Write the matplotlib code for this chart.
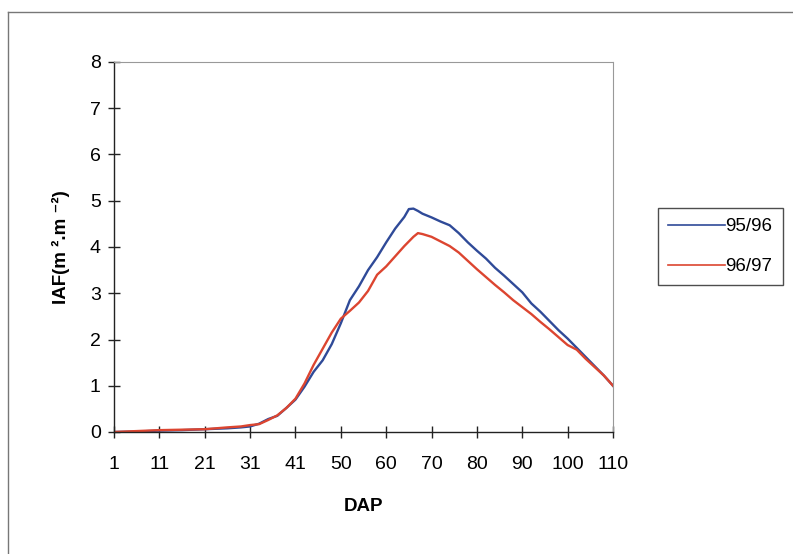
import matplotlib
matplotlib.use('Agg')
import matplotlib.pyplot as plt
from matplotlib.lines import Line2D

plt.rcParams['font.family'] = ['Liberation Sans', 'DejaVu Sans']

# DATA (x = position along the category axis, 0 .. 110)
pos = [0, 5, 10, 15, 20, 25, 28, 30, 32, 34, 36, 38, 40, 42, 44, 46, 48, 50,
       52, 54, 56, 58, 60, 62, 64, 65, 66, 67, 68, 70, 72, 74, 76, 78, 80,
       82, 84, 86, 88, 90, 92, 94, 96, 98, 100, 102, 104, 106, 108, 110]

iaf_9596 = [0.00, 0.01, 0.03, 0.04, 0.06, 0.08, 0.10, 0.12, 0.18, 0.28, 0.35,
            0.52, 0.70, 0.98, 1.30, 1.55, 1.90, 2.35, 2.85, 3.15, 3.50, 3.78,
            4.10, 4.40, 4.65, 4.82, 4.83, 4.78, 4.72, 4.64, 4.55, 4.47, 4.30,
            4.10, 3.92, 3.75, 3.55, 3.38, 3.20, 3.02, 2.78, 2.60, 2.40, 2.20,
            2.02, 1.82, 1.62, 1.42, 1.22, 1.00]

iaf_9697 = [0.00, 0.02, 0.04, 0.05, 0.06, 0.10, 0.12, 0.15, 0.17, 0.26, 0.36,
            0.52, 0.72, 1.05, 1.45, 1.80, 2.15, 2.45, 2.62, 2.80, 3.05, 3.40,
            3.58, 3.80, 4.02, 4.12, 4.22, 4.30, 4.28, 4.22, 4.12, 4.02, 3.88,
            3.70, 3.52, 3.35, 3.18, 3.02, 2.85, 2.70, 2.55, 2.38, 2.22, 2.05,
            1.88, 1.78, 1.58, 1.40, 1.22, 1.00]

tick_pos = [0, 10, 20, 30, 40, 50, 60, 70, 80, 90, 100, 110]
tick_labels = ['1', '11', '21', '31', '41', '50', '60', '70', '80', '90',
               '100', '110']

BLUE = '#2f4a98'
RED = '#dc4530'

W, H = 793, 554
fig = plt.figure(figsize=(W / 100, H / 100), dpi=100)
fig.patch.set_facecolor('white')

ax = fig.add_axes([114 / W, 1 - 432 / H, (613 - 114) / W, (432 - 62) / H])
ax.plot(pos, iaf_9596, color=BLUE, linewidth=1.7, label='95/96')
ax.plot(pos, iaf_9697, color=RED, linewidth=1.7, label='96/97')

ax.set_xlim(0, 110)
ax.set_ylim(0, 8)
ax.set_xticks(tick_pos)
ax.set_xticklabels(tick_labels)
ax.set_yticks(range(0, 9))
ax.tick_params(direction='inout', length=9, width=1, labelsize=14,
               color='#222222', pad=5)
ax.tick_params(axis='x', pad=13)

for side in ['left', 'bottom']:
    ax.spines[side].set_color('#222222')
    ax.spines[side].set_linewidth(1)
for side in ['top', 'right']:
    ax.spines[side].set_color('#999999')
    ax.spines[side].set_linewidth(0.8)
    ax.spines[side].set_linestyle((0, (2, 1)))

ax.set_xlabel('DAP', fontsize=13.5, fontweight='bold', labelpad=18)
ax.set_ylabel('IAF(m ².m ⁻²)', fontsize=13.5, fontweight='bold', labelpad=14)

leg = fig.legend(loc='upper left', bbox_to_anchor=(658 / W, 1 - 208 / H),
                 fontsize=13.5, frameon=True, fancybox=False, shadow=False,
                 handlelength=3.0, handletextpad=0.05, labelspacing=1.2,
                 borderpad=0.55, borderaxespad=0)
leg.get_frame().set_edgecolor('#222222')
leg.get_frame().set_linewidth(1)
for line in leg.get_lines():
    line.set_linewidth(1.2)

# outer chart-area frame
fig.add_artist(Line2D([8 / W, 8 / W], [0, 1 - 12 / H], color='#777777',
                      linewidth=1, transform=fig.transFigure))
fig.add_artist(Line2D([8 / W, 1], [1 - 12 / H, 1 - 12 / H], color='#777777',
                      linewidth=1, transform=fig.transFigure))

fig.savefig('out.png', dpi=100)
